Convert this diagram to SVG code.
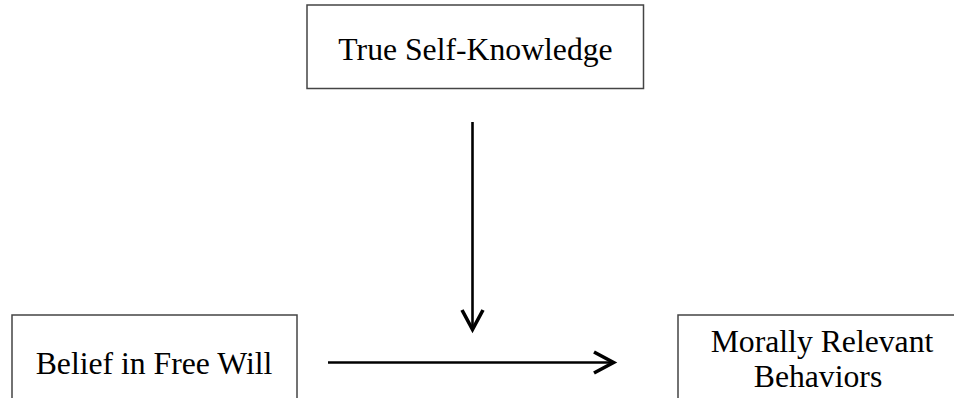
<svg xmlns="http://www.w3.org/2000/svg" width="954" height="398" viewBox="0 0 954 398">
  <style>
    .box { fill: #ffffff; stroke: #444444; stroke-width: 1.5; }
    .label { font-family: "Liberation Serif", "Times New Roman", serif; font-size: 31.7px; fill: #000000; text-anchor: middle; }
    .conn { fill: none; stroke: #000000; stroke-width: 2.6; }
  </style>
  <defs>
    <marker id="chev" viewBox="-26 -14 32 28" refX="0" refY="0" markerWidth="32" markerHeight="28" markerUnits="userSpaceOnUse" orient="auto">
      <path d="M-19.5,-10.5 L0,0 L-19.5,10.5" fill="none" stroke="#000000" stroke-width="3.6" stroke-linejoin="miter"/>
    </marker>
  </defs>
  <rect x="0" y="0" width="954" height="398" fill="#ffffff"/>
  <g id="connectors">
    <path id="c-tsk" class="conn" d="M472.5,122 L472.5,329.5" marker-end="url(#chev)"/>
    <path id="c-bfw" class="conn" d="M328,362.5 L613.5,362.5" marker-end="url(#chev)"/>
  </g>
  <g id="node-tsk">
    <rect class="box" x="307" y="5" width="336.5" height="83.5"/>
    <text class="label" x="475.5" y="60">True Self-Knowledge</text>
  </g>
  <g id="node-bfw">
    <rect class="box" x="12" y="315" width="285" height="100"/>
    <text class="label" x="154" y="374">Belief in Free Will</text>
  </g>
  <g id="node-mrb">
    <rect class="box" x="678" y="315" width="285" height="100"/>
    <text class="label" x="822" y="352">Morally Relevant</text>
    <text class="label" x="818" y="387">Behaviors</text>
  </g>
</svg>
